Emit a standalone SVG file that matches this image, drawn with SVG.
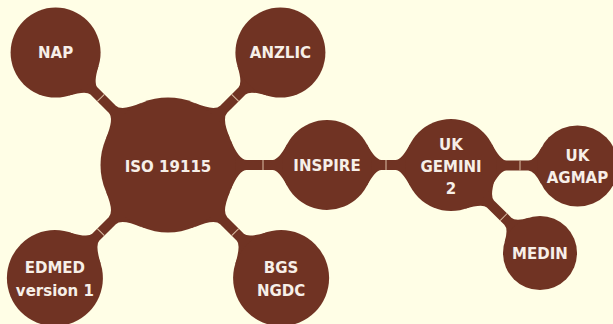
<svg xmlns="http://www.w3.org/2000/svg" width="613" height="324" viewBox="0 0 613 324">
<style>
.n{fill:#703323}
.c{fill:#703323}
.s{stroke:#dcbfa6;stroke-width:1}
.t{fill:#f7efe8;font-family:"DejaVu Sans","Noto Sans",sans-serif;font-weight:bold;font-size:15px;text-anchor:middle}
</style>
<defs>
<path id="d45" d="M62.59,-25.29 Q70.79,-5 78.79,-5 L104.69,-5 Q110.69,-5 119.27,-21.13 L119.27,21.13 Q110.69,5 104.69,5 L78.79,5 Q70.79,5 62.59,25.29 Z"/>
<path id="d48" d="M62.59,-25.29 Q70.79,-5 78.79,-5 L102.29,-5 Q108.29,-5 117.62,-22.54 L117.62,22.54 Q108.29,5 102.29,5 L78.79,5 Q70.79,5 62.59,25.29 Z"/>
</defs>
<rect width="613" height="324" fill="#fffee6"/>
<g id="connectors">
<g transform="translate(168,165) rotate(225)"><use href="#d45" class="c"/><line class="s" x1="95" y1="-5" x2="95" y2="5"/></g>
<g transform="translate(168,165) rotate(-45)"><use href="#d45" class="c"/><line class="s" x1="95" y1="-5" x2="95" y2="5"/></g>
<g transform="translate(168,165)"><use href="#d45" class="c"/><line class="s" x1="95" y1="-5" x2="95" y2="5"/></g>
<g transform="translate(168,165) rotate(135)"><use href="#d48" class="c"/><line class="s" x1="95" y1="-5" x2="95" y2="5"/></g>
<g transform="translate(168,165) rotate(45)"><use href="#d48" class="c"/><line class="s" x1="95" y1="-5" x2="95" y2="5"/></g>
<g transform="translate(327,165)"><path class="c" d="M39.73,-21.13 Q48.31,-5 54.31,-5 L68.56,-5 Q74.56,-5 83.39,-21.6 L83.39,21.6 Q74.56,5 68.56,5 L54.31,5 Q48.31,5 39.73,21.13 Z"/><line class="s" x1="59" y1="-5" x2="59" y2="5"/></g>
<g transform="translate(451,165) rotate(0.45)"><path class="c" d="M40.61,-21.6 Q49.44,-5 55.44,-5 L77.29,-5 Q83.29,-5 90.74,-19.01 L90.74,19.01 Q83.29,5 77.29,5 L55.44,5 Q49.44,5 40.61,21.6 Z"/><line class="s" x1="69" y1="-5" x2="69" y2="5"/></g>
<g transform="translate(451,165) rotate(44.7)"><path class="c" d="M40.61,-21.6 Q49.44,-5 55.44,-5 L79.95,-5 Q85.95,-5 92.53,-17.37 L92.53,17.37 Q85.95,5 79.95,5 L55.44,5 Q49.44,5 40.61,21.6 Z"/><line class="s" x1="74" y1="-5" x2="74" y2="5"/></g>
</g>
<g id="iso"><circle class="n" cx="168" cy="165" r="67.5"/><text class="t" x="168" y="171.5" font-size="18">ISO 19115</text></g>
<g id="nap"><circle class="n" cx="55.6" cy="52.6" r="45"/><text class="t" x="55.6" y="58">NAP</text></g>
<g id="anzlic"><circle class="n" cx="280.4" cy="52.6" r="45"/><text class="t" x="280.4" y="58">ANZLIC</text></g>
<g id="edmed"><circle class="n" cx="54.9" cy="278.1" r="48"/><text class="t" x="54.9" y="272.5">EDMED</text><text class="t" x="54.9" y="296">version 1</text></g>
<g id="bgs"><circle class="n" cx="281.1" cy="278.1" r="48"/><text class="t" x="281.1" y="272.5">BGS</text><text class="t" x="281.1" y="296">NGDC</text></g>
<g id="inspire"><circle class="n" cx="327" cy="165" r="45"/><text class="t" x="327" y="170.5">INSPIRE</text></g>
<g id="gemini"><circle class="n" cx="451" cy="165" r="46"/><text class="t" x="451" y="149.5">UK</text><text class="t" x="451" y="171.5">GEMINI</text><text class="t" x="451" y="193.5">2</text></g>
<g id="agmap"><circle class="n" cx="577.5" cy="166" r="40.5"/><text class="t" x="577.5" y="160.5">UK</text><text class="t" x="577.5" y="182.5">AGMAP</text></g>
<g id="medin"><circle class="n" cx="540" cy="253" r="37"/><text class="t" x="540" y="258.5">MEDIN</text></g>
</svg>
